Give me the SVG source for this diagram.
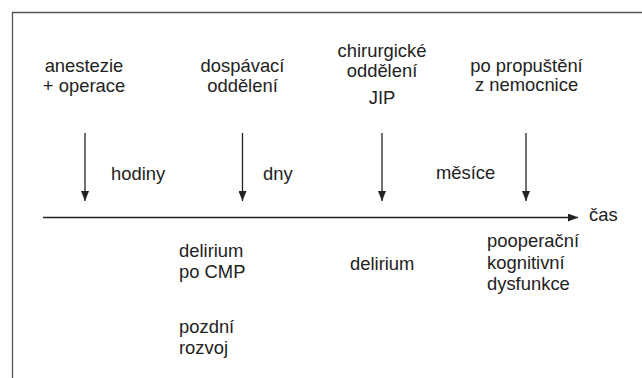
<svg xmlns="http://www.w3.org/2000/svg" width="642" height="378" viewBox="0 0 642 378">
  <style>
    text { font-family: "Liberation Sans", Arial, sans-serif; font-size: 18.4px; fill: #222; }
    .c { text-anchor: middle; }
    .ln { stroke: #222; stroke-width: 1.3; fill: none; }
  </style>
  <defs>
    <marker id="head" viewBox="0 0 10 8" refX="10" refY="4" markerWidth="10" markerHeight="8" markerUnits="userSpaceOnUse" orient="auto">
      <path d="M0,0 L10,4 L0,8 Z" fill="#222"/>
    </marker>
  </defs>
  <rect width="642" height="378" fill="#fff"/>
  <!-- frame -->
  <path d="M12.5,378 V12.5 H642" fill="none" stroke="#555" stroke-width="1.3"/>

  <g id="connectors">
    <line class="ln" x1="43" y1="217.5" x2="578" y2="217.5" marker-end="url(#head)"/>
    <line class="ln" x1="85" y1="133" x2="85" y2="201" marker-end="url(#head)"/>
    <line class="ln" x1="242.5" y1="133" x2="242.5" y2="201" marker-end="url(#head)"/>
    <line class="ln" x1="382" y1="133" x2="382" y2="201" marker-end="url(#head)"/>
    <line class="ln" x1="526" y1="133" x2="526" y2="201" marker-end="url(#head)"/>
  </g>

  <g id="anestezie">
    <text class="c" x="84" y="72">anestezie</text>
    <text class="c" x="84" y="91.5">+ operace</text>
  </g>
  <g id="dospavaci">
    <text class="c" x="242.5" y="72">dospávací</text>
    <text class="c" x="242.5" y="91.5">oddělení</text>
  </g>
  <g id="chirurgicke">
    <text class="c" x="382" y="57">chirurgické</text>
    <text class="c" x="382" y="77">oddělení</text>
    <text class="c" x="382" y="104">JIP</text>
  </g>
  <g id="propusteni">
    <text class="c" x="526.5" y="71.5">po propuštění</text>
    <text class="c" x="526.5" y="91">z nemocnice</text>
  </g>

  <g id="intervals">
    <text x="111" y="180">hodiny</text>
    <text x="263" y="180">dny</text>
    <text x="436" y="179">měsíce</text>
    <text x="589" y="221">čas</text>
  </g>

  <g id="delirium-cmp">
    <text x="179" y="257">delirium</text>
    <text x="179" y="278">po CMP</text>
  </g>
  <g id="pozdni">
    <text x="179" y="333">pozdní</text>
    <text x="179" y="354">rozvoj</text>
  </g>
  <g id="delirium">
    <text x="350" y="270">delirium</text>
  </g>
  <g id="pocd">
    <text x="487" y="247">pooperační</text>
    <text x="487" y="269">kognitivní</text>
    <text x="487" y="290">dysfunkce</text>
  </g>
</svg>
